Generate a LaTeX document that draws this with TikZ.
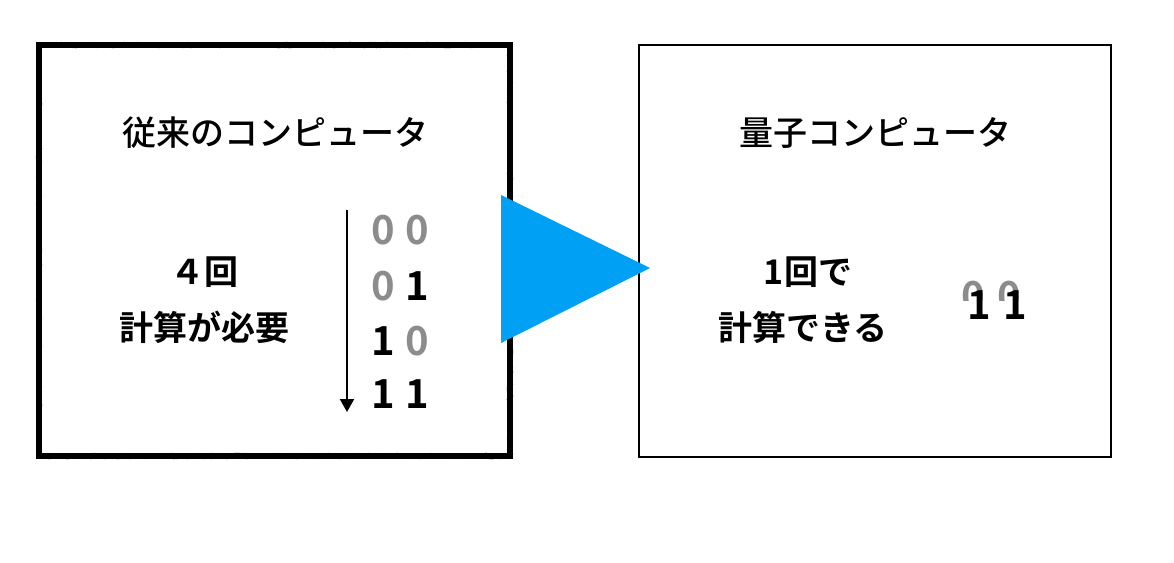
\documentclass[tikz,border=0pt]{standalone}
\usepackage{fontspec}
\setmainfont{Noto Sans CJK JP Medium}
\newfontfamily\bldfont{Noto Sans CJK JP Bold}
\usetikzlibrary{decorations.pathmorphing,arrows.meta}
\definecolor{tri}{HTML}{00A0F5}
\definecolor{dgray}{HTML}{8C8C8C}
\tikzset{
  ttl/.style={font=\fontsize{34}{40}\selectfont, inner sep=0pt, align=center},
  lbl/.style={font=\bldfont\fontsize{34}{40}\selectfont, inner sep=0pt, align=center},
  dig/.style={font=\bldfont\fontsize{40}{44}\selectfont, inner sep=0pt},
  rough/.style={decorate, decoration={random steps, segment length=2pt, amplitude=2.4pt}, line width=1.6pt, line join=round}
}
\begin{document}
\begin{tikzpicture}[x=1pt,y=-1pt]
\useasboundingbox (0,0) rectangle (1174,562);
% left rough box
\draw[line width=5.5pt] (39,45) rectangle (510,456);
\draw[rough] (39,45) rectangle (510,456);
\draw[rough] (39,45) rectangle (510,456);
\draw[rough] (39,45) rectangle (510,456);
\draw[rough] (39,45) rectangle (510,456);
% right box
\draw[line width=2.2pt] (639,45) rectangle (1111,457);
% triangle
\fill[tri] (501,195) -- (650,268) -- (501,343) -- cycle;
% titles
\node[ttl] (t1) at (275,133) {従来のコンピュータ};
\node[ttl] (t2) at (875,133) {量子コンピュータ};
\node[lbl] (l1) at (204,272) {４回};
\node[lbl] (l2) at (204,327) {計算が必要};
\node[lbl] (r1) at (808,272) {1回で};
\node[lbl] (r2) at (803,327) {計算できる};
% digit table
\coordinate (as) at (347,210);
\coordinate (ae) at (347,412);
\draw[line width=2.2pt, -{Triangle[length=13pt,width=14pt]}] (as) -- (ae);
\node[dig, text=dgray] (a1) at (383,230) {0};
\node[dig, text=dgray] (a2) at (417,230) {0};
\node[dig, text=dgray] (b1) at (383,286) {0};
\node[dig] (b2) at (417,286) {1};
\node[dig] (c1) at (383,341) {1};
\node[dig, text=dgray] (c2) at (417,341) {0};
\node[dig] (d1) at (383,394) {1};
\node[dig] (d2) at (417,394) {1};
% overlapped qubits
\begin{scope}
\clip (950,260) rectangle (1030,300);
\node[dig, text=dgray] (q1) at (973,296) {0};
\node[dig, text=dgray] (q2) at (1009,296) {0};
\end{scope}
\node[dig] (p1) at (979,305) {1};
\node[dig] (p2) at (1015,305) {1};
\end{tikzpicture}
\end{document}
